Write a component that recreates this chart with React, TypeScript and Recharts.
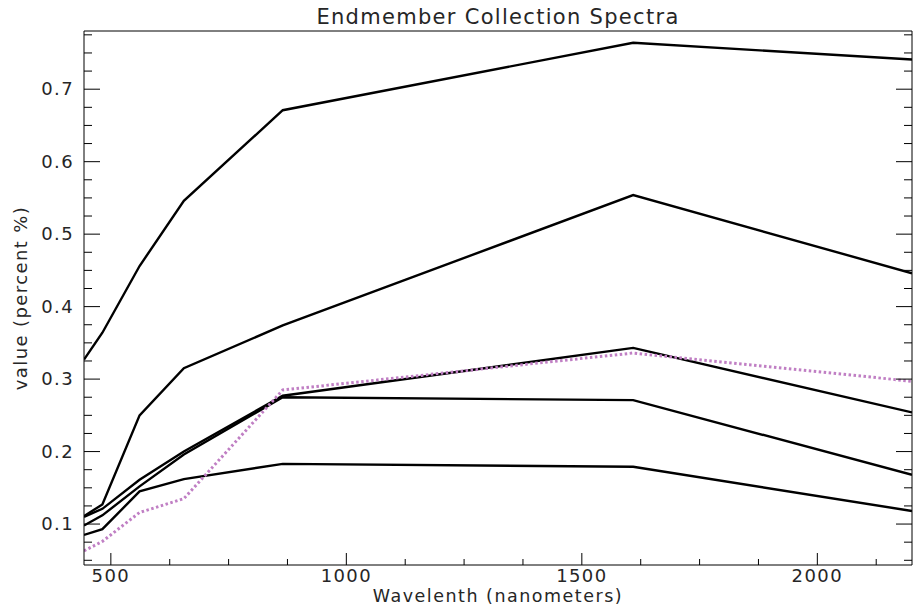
import React from 'react';
import { LineChart, Line, XAxis, YAxis, Label } from 'recharts';

// Wavelengths (nm) of the sampled bands
const wavelengths = [443, 482, 561, 655, 865, 1609, 2201];

// Endmember spectra
const spectrum1 = [0.327, 0.364, 0.456, 0.546, 0.671, 0.764, 0.741];
const spectrum2 = [0.111, 0.127, 0.25, 0.315, 0.374, 0.554, 0.446];
const spectrum3 = [0.11, 0.121, 0.161, 0.2, 0.277, 0.343, 0.254];
const spectrum4 = [0.098, 0.112, 0.152, 0.196, 0.275, 0.271, 0.168];
const spectrum5 = [0.085, 0.093, 0.145, 0.162, 0.183, 0.179, 0.118];
const spectrumDotted = [0.063, 0.076, 0.116, 0.135, 0.285, 0.336, 0.297];

// Axis ticks
const xTicks = [500, 625, 750, 875, 1000, 1125, 1250, 1375, 1500, 1625, 1750, 1875, 2000, 2125];
const xLabelTicks = [500, 1000, 1500, 2000];
const yTicks = [
  0.05, 0.075, 0.1, 0.125, 0.15, 0.175, 0.2, 0.225, 0.25, 0.275, 0.3, 0.325, 0.35, 0.375,
  0.4, 0.425, 0.45, 0.475, 0.5, 0.525, 0.55, 0.575, 0.6, 0.625, 0.65, 0.675, 0.7, 0.725, 0.75, 0.775,
];
const yLabelTicks = [0.1, 0.2, 0.3, 0.4, 0.5, 0.6, 0.7];

const xDomain = [443, 2201];
const yDomain = [0.0435, 0.7803];

const data = wavelengths.map((w, i) => ({
  w,
  s1: spectrum1[i],
  s2: spectrum2[i],
  s3: spectrum3[i],
  s4: spectrum4[i],
  s5: spectrum5[i],
  sd: spectrumDotted[i],
}));

const FONT = '"DejaVu Sans", Verdana, sans-serif';
const TEXT_FILL = '#262626';

const inList = (v: number, list: number[]) => list.some((t) => Math.abs(t - v) < 1e-6);

function BottomTick(props: any) {
  const { x, y, payload } = props;
  const major = inList(payload.value, xLabelTicks);
  return (
    <g>
      <line x1={x} x2={x} y1={y} y2={y - (major ? 12 : 6)} stroke="#000" strokeWidth={1} />
      {major && (
        <text x={x} y={y + 17} textAnchor="middle" fontFamily={FONT} fontSize={18} letterSpacing={1.4} fill={TEXT_FILL}>
          {String(payload.value)}
        </text>
      )}
    </g>
  );
}

function TopTick(props: any) {
  const { x, y, payload } = props;
  const major = inList(payload.value, xLabelTicks);
  return <line x1={x} x2={x} y1={y} y2={y + (major ? 12 : 6)} stroke="#000" strokeWidth={1} />;
}

function LeftTick(props: any) {
  const { x, y, payload } = props;
  const major = inList(payload.value, yLabelTicks);
  return (
    <g>
      <line x1={x} x2={x + (major ? 16 : 8)} y1={y} y2={y} stroke="#000" strokeWidth={1} />
      {major && (
        <text x={x - 10} y={y + 6} textAnchor="end" fontFamily={FONT} fontSize={18} letterSpacing={1.4} fill={TEXT_FILL}>
          {payload.value.toFixed(1)}
        </text>
      )}
    </g>
  );
}

function RightTick(props: any) {
  const { x, y, payload } = props;
  const major = inList(payload.value, yLabelTicks);
  return <line x1={x} x2={x - (major ? 16 : 8)} y1={y} y2={y} stroke="#000" strokeWidth={1} />;
}

export default function App() {
  return (
    <div style={{ width: 913, height: 609, background: '#fff' }}>
      <style>{'body{margin:0;background:#fff}'}</style>
      <LineChart width={913} height={609} data={data} margin={{ top: 30, right: 0, bottom: 0, left: 0 }}>
        <XAxis
          xAxisId="b"
          dataKey="w"
          type="number"
          domain={xDomain}
          allowDataOverflow
          ticks={xTicks}
          interval={0}
          tickSize={0}
          tickMargin={0}
          tickLine={false}
          tick={BottomTick}
          height={44}
          axisLine={{ stroke: '#000', strokeWidth: 1 }}
        >
          <Label
            content={(p: any) => {
              const vb = p.viewBox || { x: 84, y: 565, width: 828, height: 44 };
              return (
                <text x={vb.x + vb.width / 2} y={vb.y + 37} textAnchor="middle" fontFamily={FONT} fontSize={17.5} letterSpacing={1.5} fill={TEXT_FILL}>
                  Wavelenth (nanometers)
                </text>
              );
            }}
          />
        </XAxis>
        <XAxis
          xAxisId="t"
          orientation="top"
          type="number"
          domain={xDomain}
          allowDataOverflow
          ticks={xTicks}
          interval={0}
          tickSize={0}
          tickMargin={0}
          tickLine={false}
          tick={TopTick}
          height={1}
          axisLine={{ stroke: '#000', strokeWidth: 1 }}
        >
          <Label
            content={(p: any) => {
              const vb = p.viewBox || { x: 84, y: 30, width: 828, height: 1 };
              return (
                <text x={vb.x + vb.width / 2} y={vb.y - 6} textAnchor="middle" fontFamily={FONT} fontSize={21} letterSpacing={1.3} fill={TEXT_FILL}>
                  Endmember Collection Spectra
                </text>
              );
            }}
          />
        </XAxis>
        <YAxis
          yAxisId="l"
          type="number"
          domain={yDomain}
          allowDataOverflow
          ticks={yTicks}
          interval={0}
          tickSize={0}
          tickMargin={0}
          tickLine={false}
          tick={LeftTick}
          width={84}
          axisLine={{ stroke: '#000', strokeWidth: 1 }}
        >
          <Label
            content={(p: any) => {
              const vb = p.viewBox || { x: 0, y: 31, width: 84, height: 534 };
              const cx = vb.x + 27;
              const cy = vb.y + vb.height / 2;
              return (
                <text x={cx} y={cy} transform={`rotate(-90 ${cx} ${cy})`} textAnchor="middle" fontFamily={FONT} fontSize={18} letterSpacing={1.4} fill={TEXT_FILL}>
                  value (percent %)
                </text>
              );
            }}
          />
        </YAxis>
        <YAxis
          yAxisId="r"
          orientation="right"
          type="number"
          domain={yDomain}
          allowDataOverflow
          ticks={yTicks}
          interval={0}
          tickSize={0}
          tickMargin={0}
          tickLine={false}
          tick={RightTick}
          width={1}
          axisLine={{ stroke: '#000', strokeWidth: 1 }}
        />
        <Line xAxisId="b" yAxisId="l" dataKey="s1" stroke="#000" strokeWidth={2.4} dot={false} isAnimationActive={false} type="linear" />
        <Line xAxisId="b" yAxisId="l" dataKey="s2" stroke="#000" strokeWidth={2.4} dot={false} isAnimationActive={false} type="linear" />
        <Line xAxisId="b" yAxisId="l" dataKey="s3" stroke="#000" strokeWidth={2.4} dot={false} isAnimationActive={false} type="linear" />
        <Line xAxisId="b" yAxisId="l" dataKey="s4" stroke="#000" strokeWidth={2.4} dot={false} isAnimationActive={false} type="linear" />
        <Line xAxisId="b" yAxisId="l" dataKey="s5" stroke="#000" strokeWidth={2.4} dot={false} isAnimationActive={false} type="linear" />
        <Line xAxisId="b" yAxisId="l" dataKey="sd" stroke="#c07fc4" strokeWidth={3} strokeDasharray="2.5 2.5" dot={false} isAnimationActive={false} type="linear" />
      </LineChart>
    </div>
  );
}
